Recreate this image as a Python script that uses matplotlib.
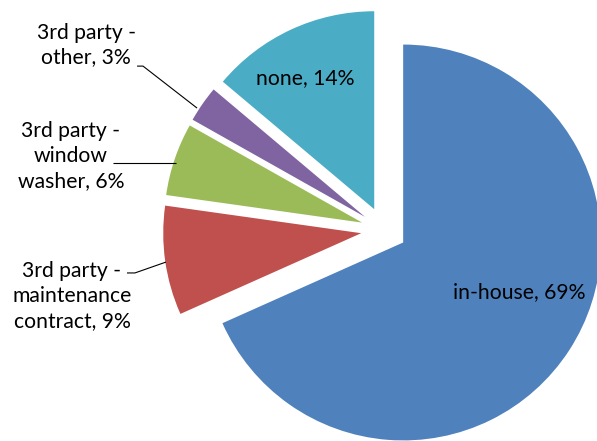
import matplotlib
matplotlib.use("Agg")
import matplotlib.pyplot as plt

# Who cleans the windows
categories = ["in-house", "3rd party -\nmaintenance\ncontract", "3rd party -\nwindow\nwasher",
              "3rd party -\nother", "none"]
shares = [69, 9, 6, 3, 14]
colors = ["#4F81BD", "#C0504D", "#9BBB59", "#8064A2", "#4BACC6"]

plt.rcParams["font.family"] = ["Lato", "DejaVu Sans"]

fig = plt.figure(figsize=(5.97, 4.41), dpi=100)
ax = fig.add_axes([0, 0, 1, 1])

wedges, _ = ax.pie(shares, colors=colors, startangle=90, counterclock=False,
                   explode=[0.116] * len(shares), radius=1.0,
                   wedgeprops=dict(linewidth=0))

ax.set_xlim(-1.939, 1.076)
ax.set_ylim(-1.066, 1.162)
ax.set_aspect("equal")
ax.axis("off")

fs = 15.2
labels = [f"{c}, {v}%" for c, v in zip(categories, shares)]

# labels inside the two big wedges
ax.text(0.682, -0.313, labels[0], ha="center", va="center", fontsize=fs, color="black")
ax.text(-0.399, 0.768, labels[4], ha="center", va="center", fontsize=fs, color="black")

# labels outside the small wedges, with leader lines
outside = [
    (1, (-1.576, -0.333), [(-1.298, -0.217), (-1.258, -0.217), (-1.101, -0.162)]),
    (2, (-1.581, 0.374), [(-1.369, 0.338), (-1.051, 0.338)]),
    (3, (-1.505, 0.934), [(-1.247, 0.828), (-1.217, 0.828), (-0.944, 0.616)]),
]
for idx, (tx, ty), path in outside:
    ax.text(tx, ty, labels[idx], ha="center", va="center", fontsize=fs,
            color="black", linespacing=1.3)
    xs, ys = zip(*path)
    ax.plot(xs, ys, color="black", linewidth=0.8, solid_capstyle="butt")

fig.savefig("out.png", dpi=100)
